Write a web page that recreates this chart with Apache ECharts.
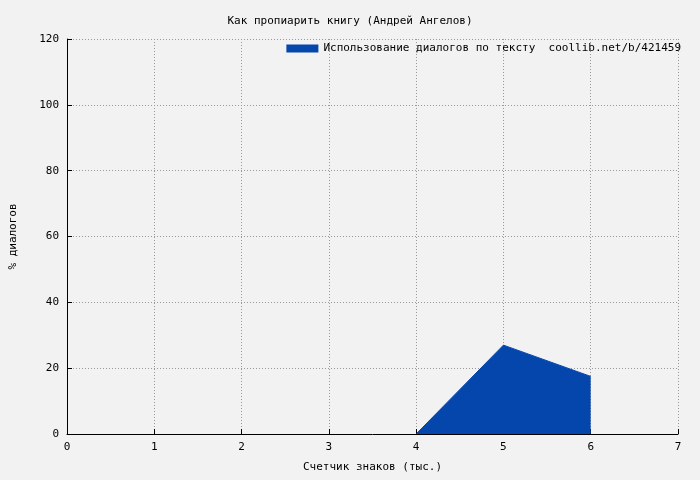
<!DOCTYPE html>
<html><head><meta charset="utf-8">
<script src="https://cdn.jsdelivr.net/npm/echarts@6/dist/echarts.min.js"></script>
<style>html,body{margin:0;padding:0;background:#f2f2f2}#c{width:700px;height:480px}</style>
</head><body><div id="c"></div>
<script>
const xValues = [4, 5, 6];
const yValues = [0, 27, 17.5];
const xTicks = [0,1,2,3,4,5,6,7];
const yTicks = [0,20,40,60,80,100,120];
const title = 'Как пропиарить книгу (Андрей Ангелов)';
const seriesName = 'Использование диалогов по тексту  coollib.net/b/421459';
const font = 'DejaVu Sans Mono';
const chart = echarts.init(document.getElementById('c'));
const dashed = {show:true, lineStyle:{color:'#999', type:[1,2], width:1}};
chart.setOption({
  backgroundColor:'#f2f2f2',
  animation:false,
  title:{text:title,left:'center',top:11,textStyle:{fontFamily:font,fontSize:11,fontWeight:'normal',color:'#000'}},
  legend:{right:14,top:38,itemWidth:32,itemHeight:8,icon:'rect',itemGap:6,
    textStyle:{fontFamily:font,fontSize:11,color:'#000'},data:[seriesName]},
  grid:{left:62,right:22,top:39,bottom:46},
  xAxis:{type:'value',min:0,max:7,interval:1,name:'Счетчик знаков (тыс.)',nameLocation:'middle',nameGap:28,
    nameTextStyle:{fontFamily:font,fontSize:11,color:'#000'},
    axisLine:{lineStyle:{color:'#000'}},axisTick:{inside:true,length:5,lineStyle:{color:'#000'}},
    axisLabel:{fontFamily:font,fontSize:11,color:'#000',formatter:v=>xTicks.includes(v)?String(v):''},
    splitLine:dashed},
  yAxis:{type:'value',min:0,max:120,interval:20,name:'% диалогов',nameLocation:'middle',nameGap:48,
    nameTextStyle:{fontFamily:font,fontSize:11,color:'#000'},
    axisLine:{show:true,lineStyle:{color:'#000'}},axisTick:{show:true,inside:true,length:5,lineStyle:{color:'#000'}},
    axisLabel:{fontFamily:font,fontSize:11,color:'#000',formatter:v=>yTicks.includes(v)?String(v):''},
    splitLine:dashed},
  series:[{name:seriesName,type:'line',data:xValues.map((x,i)=>[x,yValues[i]]),
    symbol:'none',itemStyle:{color:'#0546ad'},lineStyle:{color:'#0546ad',width:1},
    areaStyle:{color:'#0546ad',opacity:1}}]
});
</script></body></html>
